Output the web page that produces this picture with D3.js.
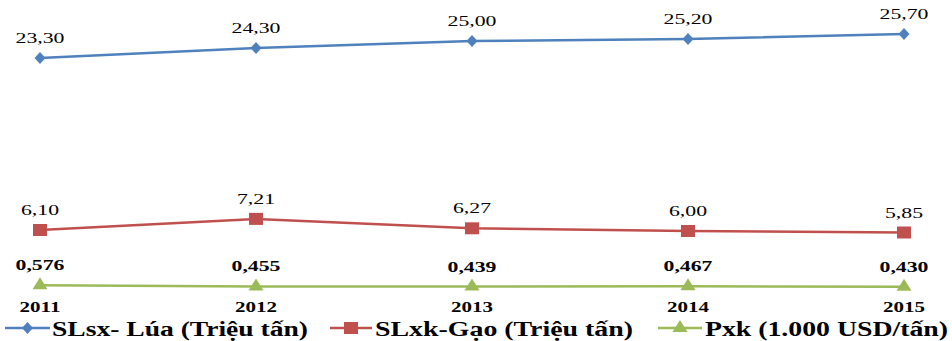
<!DOCTYPE html>
<html><head><meta charset="utf-8">
<script src="https://cdn.jsdelivr.net/npm/d3@7"></script>
<style>body{margin:0;background:#fff}svg{display:block}</style>
</head><body>
<svg id="c" width="952" height="341"></svg>
<script>
const years = ["2011","2012","2013","2014","2015"];
const lua = [23.30, 24.30, 25.00, 25.20, 25.70];
const gao = [6.10, 7.21, 6.27, 6.00, 5.85];
const pxk = [0.576, 0.455, 0.439, 0.467, 0.430];
const luaLabels = ["23,30","24,30","25,00","25,20","25,70"];
const gaoLabels = ["6,10","7,21","6,27","6,00","5,85"];
const pxkLabels = ["0,576","0,455","0,439","0,467","0,430"];
const seriesNames = ["SLsx- Lúa (Triệu tấn)","SLxk-Gạo (Triệu tấn)","Pxk (1.000 USD/tấn)"];
const colors = ["#4F81BD","#C0504D","#9BBB59"];

const svg = d3.select("#c");
const x = d3.scalePoint().domain(years).range([40, 904]);
const y = d3.scaleLinear().domain([0, 29.1]).range([291, 0]);
const font = "'Liberation Serif','Times New Roman',serif";
const SX = 1.45;

const series = [
  {vals: lua, labels: luaLabels, color: colors[0], shape: "diamond", bold: false},
  {vals: gao, labels: gaoLabels, color: colors[1], shape: "square", bold: false},
  {vals: pxk, labels: pxkLabels, color: colors[2], shape: "triangle", bold: true}
];

function marker(g, shape, color, cx, cy) {
  if (shape === "diamond") {
    g.append("path").attr("d", `M${cx},${cy-6}L${cx+5.5},${cy}L${cx},${cy+6}L${cx-5.5},${cy}Z`).attr("fill", color);
  } else if (shape === "square") {
    g.append("rect").attr("x", cx-7).attr("y", cy-6).attr("width", 14).attr("height", 12).attr("fill", color);
  } else {
    g.append("path").attr("d", `M${cx},${cy-8}L${cx+7.5},${cy+4}L${cx-7.5},${cy+4}Z`).attr("fill", color);
  }
}

const line = d3.line().x((d,i)=>x(years[i])).y(d=>y(d));
series.forEach(s => {
  svg.append("path").datum(s.vals).attr("d", line).attr("fill","none")
    .attr("stroke", s.color).attr("stroke-width", 2.5);
  const g = svg.append("g");
  s.vals.forEach((v,i) => marker(g, s.shape, s.color, x(years[i]), y(v)));
  s.vals.forEach((v,i) => {
    svg.append("text")
      .attr("transform", `translate(${x(years[i])},${y(v)-15}) scale(${SX},1)`)
      .attr("text-anchor","middle")
      .attr("font-family", font).attr("font-size", 15)
      .attr("font-weight", s.bold ? "bold" : "normal")
      .attr("fill", "#000")
      .text(s.labels[i]);
  });
});

// x axis labels
years.forEach(yr => {
  svg.append("text")
    .attr("transform", `translate(${x(yr)},312) scale(1.4,1)`)
    .attr("text-anchor","middle")
    .attr("font-family", font).attr("font-size", 15).attr("font-weight","bold")
    .text(yr);
});

// legend
const leg = [
  {x0: 5, x1: 50, tx: 52, tw: 256},
  {x0: 330, x1: 372, tx: 375, tw: 258},
  {x0: 658, x1: 702, tx: 705, tw: 243}
];
leg.forEach((l,i) => {
  const g = svg.append("g");
  g.append("line").attr("x1", l.x0).attr("x2", l.x1).attr("y1", 328).attr("y2", 328)
    .attr("stroke", colors[i]).attr("stroke-width", 2.5);
  marker(g, series[i].shape, colors[i], (l.x0+l.x1)/2, 328);
  g.append("text").attr("x", l.tx).attr("y", 336)
    .attr("font-family", font).attr("font-size", 20).attr("font-weight","bold")
    .attr("textLength", l.tw).attr("lengthAdjust","spacingAndGlyphs")
    .text(seriesNames[i]);
});
</script>
</body></html>
